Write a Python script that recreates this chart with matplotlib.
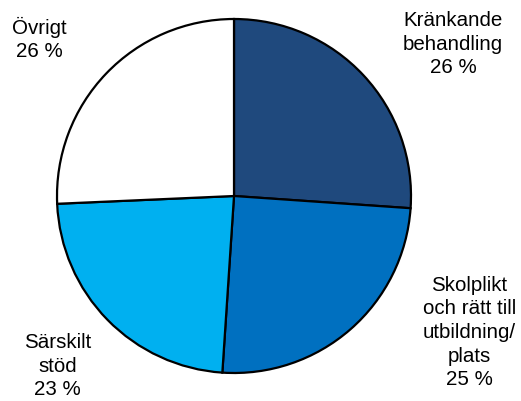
import matplotlib
matplotlib.use("Agg")
import matplotlib.pyplot as plt

categories = ["Kränkande\nbehandling", "Skolplikt\noch rätt till\nutbildning/\nplats", "Särskilt\nstöd", "Övrigt"]
values = [26.1, 24.95, 23.25, 25.7]
pct_labels = ["26 %", "25 %", "23 %", "26 %"]
colors = ["#1F497D", "#0070C0", "#00B0F0", "#FFFFFF"]

W, H = 521, 401
fig = plt.figure(figsize=(W / 100, H / 100), dpi=100)
ax = fig.add_axes([0, 0, 1, 1])
cx, cy, r = 234, H - 196, 177
ax.pie(values, colors=colors, startangle=90, counterclock=False,
       center=(cx, cy), radius=r, frame=True,
       wedgeprops=dict(edgecolor="black", linewidth=1.6))
ax.set_xlim(0, W)
ax.set_ylim(0, H)
ax.set_aspect("equal")
ax.axis("off")

# label anchor points (pixels, last-line baseline)
label_pos = [(453, 73), (469.5, 385), (57.5, 395), (39, 57)]
for cat, pct, (x, y) in zip(categories, pct_labels, label_pos):
    ax.text(x, H - y, f"{cat}\n{pct}", ha="center", va="baseline",
            multialignment="center", fontsize=14.8, family="Liberation Sans",
            linespacing=1.3, color="black")

fig.savefig("out.png", dpi=100)
